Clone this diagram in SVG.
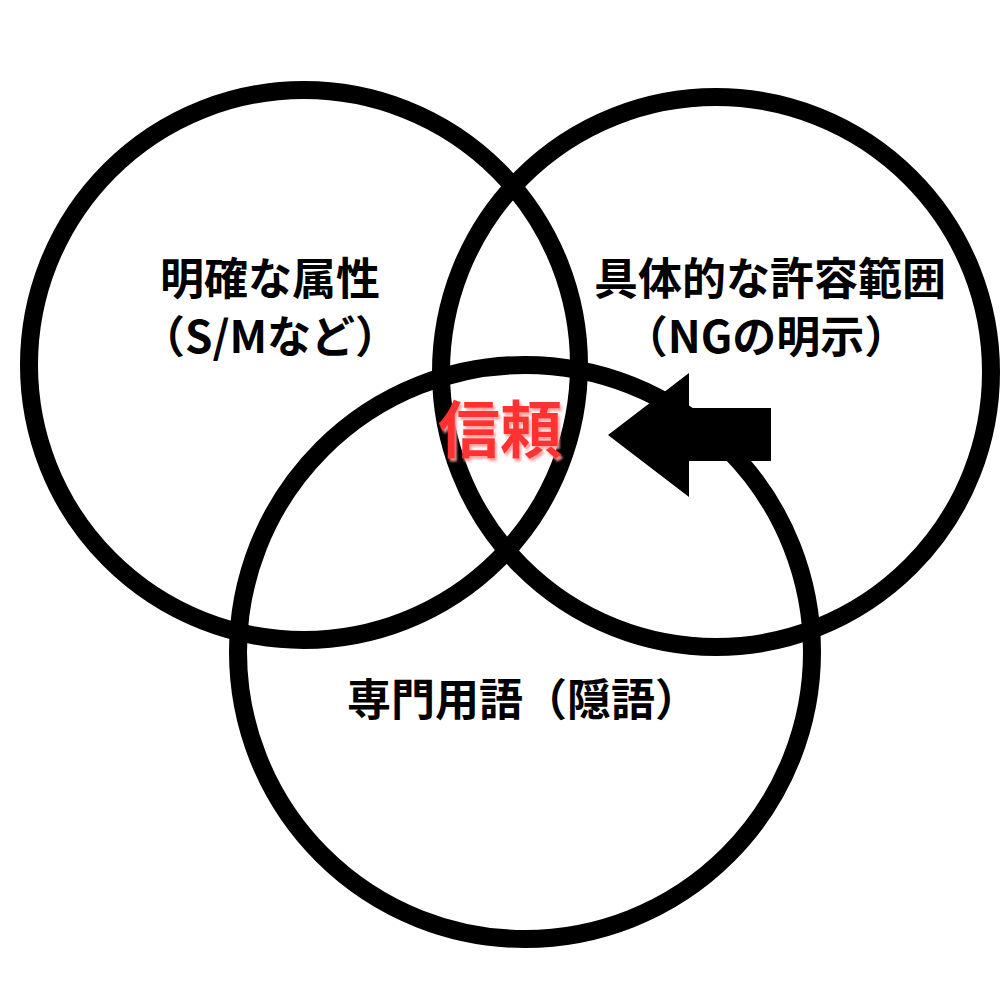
<svg xmlns="http://www.w3.org/2000/svg" width="1000" height="1000" viewBox="0 0 1000 1000">
<style>
.ring{fill:none;stroke:#000;stroke-width:18}
.lbl{font-family:"Noto Sans CJK JP","Noto Sans",sans-serif;font-weight:700;font-size:44px;fill:#000;text-anchor:middle;dominant-baseline:central}
.key{font-family:"Noto Sans CJK JP","Noto Sans",sans-serif;font-weight:700;font-size:62px;fill:#ff3333;text-anchor:middle;dominant-baseline:central}
</style>
<defs>
<filter id="sh" x="-20%" y="-20%" width="140%" height="140%">
<feDropShadow dx="2" dy="3" stdDeviation="1.2" flood-color="#ff9a9a" flood-opacity="0.9"/>
</filter>
</defs>
<rect width="1000" height="1000" fill="#fff"/>
<g id="circle-attr"><circle class="ring" cx="304" cy="365" r="275"/></g>
<g id="circle-range"><circle class="ring" cx="716" cy="372" r="275"/></g>
<g id="circle-term"><circle class="ring" cx="525" cy="652" r="287"/></g>
<g id="label-attr">
<text class="lbl" x="270" y="276">明確な属性</text>
<text class="lbl" x="270" y="334">（S/Mなど）</text>
</g>
<g id="label-range">
<text class="lbl" x="770" y="276">具体的な許容範囲</text>
<text class="lbl" x="766" y="334">（NGの明示）</text>
</g>
<g id="label-term">
<text class="lbl" x="523" y="697">専門用語（隠語）</text>
</g>
<g id="center-trust">
<text class="key" x="500" y="426" filter="url(#sh)">信頼</text>
</g>
<g id="connectors">
<polygon points="608,435 689,373 689,408 771,408 771,461 689,461 689,497" fill="#000"/>
</g>
</svg>
